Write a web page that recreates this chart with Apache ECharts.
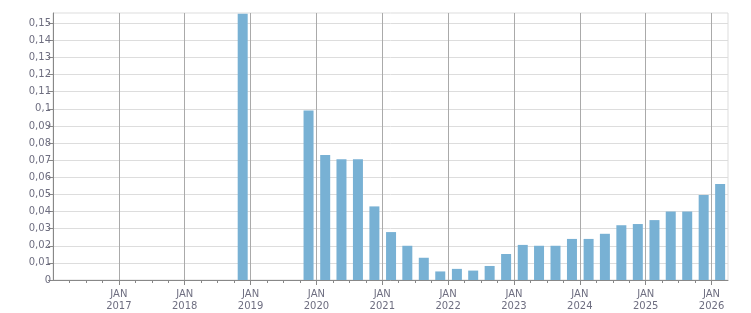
<!DOCTYPE html>
<html>
<head>
<meta charset="utf-8">
<script src="https://cdn.jsdelivr.net/npm/echarts@6/dist/echarts.min.js"></script>
<style>
  html, body { margin: 0; padding: 0; background: #fff; }
  #chart { width: 751px; height: 313px; }
</style>
</head>
<body>
<div id="chart"></div>
<script>
// 每次派息的日期和金额
const payDates = [
  '2018-11-18',
  '2019-11-18', '2020-02-19', '2020-05-18', '2020-08-18',
  '2020-11-18', '2021-02-19', '2021-05-18', '2021-08-18',
  '2021-11-18', '2022-02-19', '2022-05-18', '2022-08-18',
  '2022-11-18', '2023-02-19', '2023-05-18', '2023-08-18',
  '2023-11-18', '2024-02-19', '2024-05-18', '2024-08-18',
  '2024-11-18', '2025-02-19', '2025-05-18', '2025-08-18',
  '2025-11-18', '2026-02-18'
];
const payValues = [
  0.1555,
  0.099, 0.073, 0.0705, 0.0705,
  0.043, 0.028, 0.020, 0.013,
  0.005, 0.0065, 0.0055, 0.0082,
  0.0152, 0.0205, 0.020, 0.020,
  0.024, 0.024, 0.027, 0.032,
  0.0327, 0.035, 0.040, 0.040,
  0.0497, 0.0561
];
const startYear = 2016;
const axisEnd = 123; // 月份数, 到 2026 年 4 月

// 日期 -> 距 2016 年 1 月的月份数
function monthPos(str) {
  const [y, m, d] = str.split('-').map(Number);
  return (y - startYear) * 12 + (m - 1) + (d - 1) / 30;
}

const majorTicks = [];
const minorTicks = [];
for (let i = 3; i < axisEnd; i += 3) {
  if (i % 12 === 0) majorTicks.push(i);
  else minorTicks.push(i);
}
const yTicks = [];
for (let i = 0; i <= 15; i++) yTicks.push(+(i / 100).toFixed(2));

const seriesData = payDates.map((d, i) => [monthPos(d), payValues[i]]);

const labelColor = '#6e6e80';
const fontFamily = 'DejaVu Sans';

const chart = echarts.init(document.getElementById('chart'));
chart.setOption({
  animation: false,
  grid: {
    left: 53, right: 23, top: 13, bottom: 33,
    show: true, borderColor: '#dddddd', borderWidth: 1
  },
  xAxis: [
    {
      type: 'value', min: 0, max: axisEnd, interval: 12,
      axisLine: { lineStyle: { color: '#888888' } },
      axisTick: { show: false },
      axisLabel: {
        showMinLabel: false, showMaxLabel: false,
        color: labelColor, fontFamily: fontFamily, fontSize: 10,
        lineHeight: 12, margin: 8,
        formatter: v => 'JAN\n' + (startYear + v / 12)
      },
      splitLine: {
        show: true, showMinLine: false, showMaxLine: false,
        lineStyle: { color: '#aaaaaa', width: 1 }
      }
    },
    {
      type: 'value', min: 0, max: axisEnd, position: 'bottom', offset: 0,
      axisLine: { show: false },
      axisLabel: { show: false },
      splitLine: { show: false },
      axisTick: { show: true, customValues: majorTicks, length: 5, lineStyle: { color: '#888888' } }
    },
    {
      type: 'value', min: 0, max: axisEnd, position: 'bottom', offset: 0,
      axisLine: { show: false },
      axisLabel: { show: false },
      splitLine: { show: false },
      axisTick: { show: true, customValues: minorTicks, length: 3, lineStyle: { color: '#888888' } }
    }
  ],
  yAxis: {
    type: 'value', min: 0, max: 0.156, interval: 0.01,
    axisLine: { show: true, lineStyle: { color: '#888888' } },
    axisTick: { show: true, customValues: yTicks, length: 5, lineStyle: { color: '#888888' } },
    axisLabel: {
      showMaxLabel: false,
      color: labelColor, fontFamily: fontFamily, fontSize: 10, margin: 2,
      formatter: v => String(+v.toFixed(2)).replace('.', ',')
    },
    splitLine: { lineStyle: { color: '#dddddd' } }
  },
  series: [
    {
      type: 'bar',
      xAxisIndex: 0,
      data: seriesData,
      barWidth: 10,
      itemStyle: { color: '#78b1d4' }
    }
  ]
});
</script>
</body>
</html>
